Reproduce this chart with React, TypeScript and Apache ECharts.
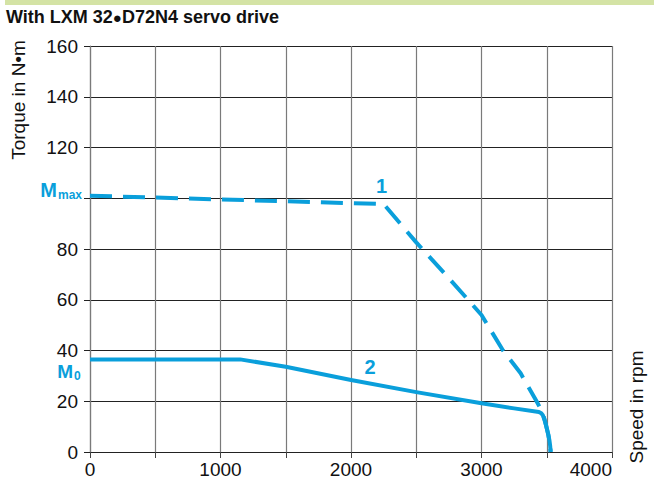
import React, { useEffect, useRef } from "react";
import * as echarts from "echarts";

// Peak torque limit (curve 1), speed in rpm / torque in N·m
const peakSpeed = [0, 2250, 2500, 2750, 3000, 3165, 3300, 3422, 3448, 3474, 3492, 3512, 3526, 3530];
const peakTorque = [101, 97.7, 82.6, 68.5, 54, 40, 31, 20, 17.5, 14.5, 11, 6.8, 2.5, 0];

// Continuous torque (curve 2)
const contSpeed = [0, 1150, 1500, 2000, 2500, 3000, 3250, 3440, 3458, 3470, 3482, 3492, 3502, 3512, 3520, 3526, 3530];
const contTorque = [36.5, 36.5, 33.6, 28.4, 23.6, 19.2, 17.2, 15.8, 15.3, 14.5, 12.8, 11, 9, 6.8, 4.8, 2.5, 0];

const xLabels = [0, 1000, 2000, 3000, 4000];
const hiddenYLabels = [100];

const BLUE = "#0a9fdb";
const FONT = "'Liberation Sans', Arial, sans-serif";

export default function App() {
  const ref = useRef<HTMLDivElement>(null);

  useEffect(() => {
    if (!ref.current) return;
    const chart = echarts.init(ref.current, undefined, { renderer: "svg" });

    const toPairs = (xs: number[], ys: number[]) => xs.map((x, i) => [x, ys[i]]);

    chart.setOption({
      animation: false,
      grid: { left: 90, right: 42, top: 46, bottom: 28 },
      xAxis: {
        type: "value",
        min: 0,
        max: 4000,
        interval: 500,
        axisLine: { lineStyle: { color: "#222", width: 1.2 } },
        axisTick: { show: true, length: 6, lineStyle: { color: "#444" } },
        axisLabel: {
          color: "#111",
          fontSize: 19,
          fontFamily: FONT,
          margin: 8,
          alignMaxLabel: "right",
          formatter: (v: number) => (xLabels.includes(v) ? String(v) : ""),
        },
        splitLine: { show: true, lineStyle: { color: "#7a7a7a", width: 1.2 } },
      },
      yAxis: {
        type: "value",
        min: 0,
        max: 160,
        interval: 20,
        axisLine: { show: true, lineStyle: { color: "#7a7a7a", width: 1.2 } },
        axisTick: { show: true, length: 6, lineStyle: { color: "#222" } },
        axisLabel: {
          color: "#111",
          fontSize: 19,
          fontFamily: FONT,
          margin: 12,
          formatter: (v: number) => (hiddenYLabels.includes(v) ? "" : String(v)),
        },
        splitLine: { show: true, lineStyle: { color: "#222", width: 1.2 } },
      },
      series: [
        {
          type: "line",
          data: toPairs(contSpeed, contTorque),
          showSymbol: false,
          lineStyle: { color: BLUE, width: 4, cap: "butt", join: "round" },
          z: 3,
        },
        {
          type: "line",
          data: toPairs(peakSpeed, peakTorque),
          showSymbol: false,
          lineStyle: { color: BLUE, width: 4, type: [22, 11], cap: "butt" },
          z: 4,
        },
      ],
      graphic: [
        { type: "rect", shape: { x: 5, y: 0, width: 649, height: 5 }, style: { fill: "#d4e3a5" } },
        {
          type: "text",
          x: 6,
          y: 17,
          style: {
            text: "{a|With LXM 32}{b|\u25CF}{a|D72N4 servo drive}",
            rich: {
              a: { fontSize: 18, fontWeight: "bold", fontFamily: FONT, fill: "#111" },
              b: { fontSize: 15, fontFamily: FONT, fill: "#111", padding: [1, 0, 0, 0] },
            },
            verticalAlign: "middle",
          },
        },
        {
          type: "text",
          x: 18,
          y: 100,
          rotation: Math.PI / 2,
          style: {
            text: "Torque in N\u2022m",
            font: `19px ${FONT}`,
            fill: "#111",
            align: "center",
            verticalAlign: "middle",
          },
        },
        {
          type: "text",
          x: 636,
          y: 407,
          rotation: Math.PI / 2,
          style: {
            text: "Speed in rpm",
            font: `19px ${FONT}`,
            fill: "#111",
            align: "center",
            verticalAlign: "middle",
          },
        },
        {
          type: "text",
          x: 57,
          y: 190,
          style: { text: "M", font: `bold 20px ${FONT}`, fill: BLUE, align: "right", verticalAlign: "middle" },
        },
        {
          type: "text",
          x: 58,
          y: 194.5,
          style: { text: "max", font: `bold 12px ${FONT}`, fill: BLUE, align: "left", verticalAlign: "middle" },
        },
        {
          type: "text",
          x: 73,
          y: 371,
          style: { text: "M", font: `bold 19px ${FONT}`, fill: BLUE, align: "right", verticalAlign: "middle" },
        },
        {
          type: "text",
          x: 74,
          y: 376,
          style: { text: "0", font: `bold 12px ${FONT}`, fill: BLUE, align: "left", verticalAlign: "middle" },
        },
        {
          type: "text",
          x: 381.5,
          y: 185.5,
          style: { text: "1", font: `bold 20px ${FONT}`, fill: BLUE, align: "center", verticalAlign: "middle" },
        },
        {
          type: "text",
          x: 370,
          y: 367,
          style: { text: "2", font: `bold 20px ${FONT}`, fill: BLUE, align: "center", verticalAlign: "middle" },
        },
      ],
    });

    return () => chart.dispose();
  }, []);

  return (
    <div
      ref={ref}
      style={{ position: "fixed", left: 0, top: 0, width: 654, height: 480, background: "#fff" }}
    />
  );
}
